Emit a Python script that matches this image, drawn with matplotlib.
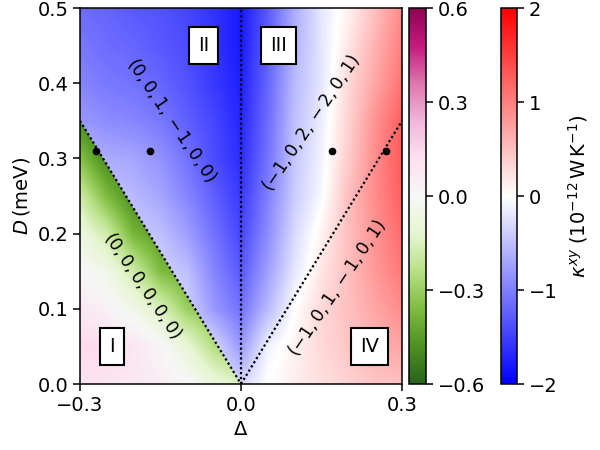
import numpy as np
import matplotlib
matplotlib.use("Agg")
import matplotlib.pyplot as plt
from matplotlib.patches import Polygon
from matplotlib.cm import ScalarMappable
from matplotlib.colors import Normalize

# grid nodes
delta = [-0.30, -0.25, -0.20, -0.15, -0.10, -0.05, 0.00, 0.05, 0.10, 0.15, 0.20, 0.25, 0.30]
D = [0.00, 0.05, 0.10, 0.15, 0.20, 0.25, 0.30, 0.35, 0.40, 0.45, 0.50]

# kappa^xy (10^-12 W/K) in regions II, III, IV  (rows: D from 0 to 0.5)
kxy_II_III_IV = [
    [-0.20, -0.20, -0.20, -0.20, -0.20, -0.25, -0.30, 0.00, 0.15, 0.25, 0.35, 0.45, 0.50],
    [-0.20, -0.20, -0.20, -0.20, -0.20, -0.30, -0.80, -0.10, 0.10, 0.30, 0.45, 0.60, 0.70],
    [-0.20, -0.20, -0.20, -0.25, -0.35, -0.80, -1.10, -0.55, 0.00, 0.30, 0.50, 0.70, 0.90],
    [-0.25, -0.25, -0.30, -0.35, -0.50, -0.95, -1.30, -0.75, -0.20, 0.20, 0.50, 0.80, 1.05],
    [-0.30, -0.35, -0.40, -0.50, -0.75, -1.10, -1.45, -0.90, -0.30, 0.10, 0.50, 0.85, 1.15],
    [-0.40, -0.45, -0.55, -0.70, -0.95, -1.25, -1.55, -1.00, -0.40, -0.05, 0.50, 0.90, 1.25],
    [-0.55, -0.65, -0.70, -0.85, -1.10, -1.40, -1.65, -1.10, -0.45, -0.10, 0.40, 0.90, 1.30],
    [-0.80, -0.90, -0.95, -1.05, -1.25, -1.45, -1.70, -1.15, -0.50, -0.15, 0.35, 0.85, 1.25],
    [-0.95, -1.05, -1.10, -1.20, -1.35, -1.55, -1.75, -1.20, -0.55, -0.20, 0.30, 0.70, 1.10],
    [-1.05, -1.15, -1.20, -1.30, -1.40, -1.60, -1.80, -1.25, -0.60, -0.20, 0.20, 0.60, 1.00],
    [-1.15, -1.20, -1.30, -1.35, -1.45, -1.60, -1.80, -1.30, -0.65, -0.20, 0.10, 0.50, 0.90],
]

# kappa^xy in region I (columns Delta = -0.3 .. 0.0)
delta_I = [-0.30, -0.25, -0.20, -0.15, -0.10, -0.05, 0.00]
kxy_I = [
    [0.10, 0.10, 0.08, 0.05, 0.01, -0.08, -0.15],
    [0.14, 0.13, 0.09, 0.01, -0.10, -0.25, -0.30],
    [0.08, 0.03, -0.05, -0.15, -0.30, -0.35, -0.35],
    [0.01, -0.05, -0.18, -0.36, -0.40, -0.40, -0.40],
    [-0.07, -0.18, -0.38, -0.45, -0.45, -0.45, -0.45],
    [-0.18, -0.36, -0.50, -0.50, -0.50, -0.50, -0.50],
    [-0.34, -0.50, -0.50, -0.50, -0.50, -0.50, -0.50],
    [-0.50, -0.55, -0.55, -0.55, -0.55, -0.55, -0.55],
    [-0.55, -0.55, -0.55, -0.55, -0.55, -0.55, -0.55],
    [-0.55, -0.55, -0.55, -0.55, -0.55, -0.55, -0.55],
    [-0.55, -0.55, -0.55, -0.55, -0.55, -0.55, -0.55],
]

# phase boundaries: lines from origin to (+-0.3, 0.35) and vertical Delta=0
boundary_delta = [-0.3, 0.0, 0.3]
boundary_D = [0.35, 0.0, 0.35]

# marked points
pts_delta = [-0.27, -0.17, 0.17, 0.27]
pts_D = [0.31, 0.31, 0.31, 0.31]

region_labels = ["I", "II", "III", "IV"]
region_pos = [(-0.24, 0.05), (-0.07, 0.45), (0.07, 0.45), (0.24, 0.05)]

vectors = [r"$(0,0,0,0,0,0)$", r"$(0,0,1,-1,0,0)$", r"$(-1,0,2,-2,0,1)$", r"$(-1,0,1,-1,0,1)$"]
vector_pos = [(-0.182, 0.131, -56), (-0.129, 0.351, -56), (0.129, 0.348, 56), (0.179, 0.128, 56)]

plt.rcParams['font.size'] = 14
plt.rcParams['mathtext.fontset'] = 'dejavusans'
plt.rcParams['axes.linewidth'] = 1.1
for a in ('x', 'y'):
    plt.rcParams[f'{a}tick.major.size'] = 4.9
    plt.rcParams[f'{a}tick.major.width'] = 1.1

fig = plt.figure(figsize=(6, 4.5), dpi=100)
ax = fig.add_axes([80/600, 1-384/450, 322/600, 376/450])

dx = 0.05
dy = 0.05
ext = [delta[0]-dx/2, delta[-1]+dx/2, D[0]-dy/2, D[-1]+dy/2]
im_b = ax.imshow(np.array(kxy_II_III_IV), origin='lower', extent=ext, cmap='bwr',
                 vmin=-2, vmax=2, interpolation='bilinear', interpolation_stage='data',
                 aspect='auto')
ext_I = [delta_I[0]-dx/2, delta_I[-1]+dx/2, D[0]-dy/2, D[-1]+dy/2]
im_g = ax.imshow(np.array(kxy_I), origin='lower', extent=ext_I, cmap='PiYG_r',
                 vmin=-0.6, vmax=0.6, interpolation='bilinear', interpolation_stage='data',
                 aspect='auto')
tri = Polygon([[boundary_delta[0], 0.0], [boundary_delta[0], boundary_D[0]],
               [boundary_delta[1], boundary_D[1]]], closed=True,
              transform=ax.transData, facecolor='none', edgecolor='none')
im_g.set_clip_path(tri)

lw_dot = 1.6
ax.plot(boundary_delta[:2], boundary_D[:2], color='k', ls=(0, (1, 1.2)), lw=lw_dot)
ax.plot(boundary_delta[1:], boundary_D[1:], color='k', ls=(0, (1, 1.2)), lw=lw_dot)
ax.plot([0, 0], [0, 0.5], color='k', ls=(0, (1, 1.2)), lw=lw_dot)
ax.plot(pts_delta, pts_D, 'o', color='k', ms=4.5, ls='none')

for lab, (x, y) in zip(region_labels, region_pos):
    ax.text(x, y, lab, ha='center', va='center', fontsize=14,
            bbox=dict(boxstyle='square,pad=0.46', fc='white', ec='black', lw=1.5))
for v, (x, y, r) in zip(vectors, vector_pos):
    ax.text(x, y, v, ha='center', va='center', rotation=r, rotation_mode='anchor', fontsize=12.5)

ax.set_xlim(-0.3, 0.3)
ax.set_ylim(0, 0.5)
ax.set_xticks([-0.3, 0.0, 0.3])
ax.set_yticks([0.0, 0.1, 0.2, 0.3, 0.4, 0.5])
ax.set_xlabel(r'$\Delta$')
ax.set_ylabel(r'$D\,$(meV)')

cax1 = fig.add_axes([409/600, 1-384/450, 17/600, 376/450])
cb1 = fig.colorbar(im_g, cax=cax1, ticks=[-0.6, -0.3, 0.0, 0.3, 0.6])
cax2 = fig.add_axes([501/600, 1-384/450, 16/600, 376/450])
cb2 = fig.colorbar(ScalarMappable(norm=Normalize(-2, 2), cmap='bwr'), cax=cax2,
                   ticks=[-2, -1, 0, 1, 2])
cb2.set_label(r'$\kappa^{xy}\;(10^{-12}\,\mathrm{W\,K^{-1}})$', labelpad=6)

fig.savefig('out.png', dpi=100)
